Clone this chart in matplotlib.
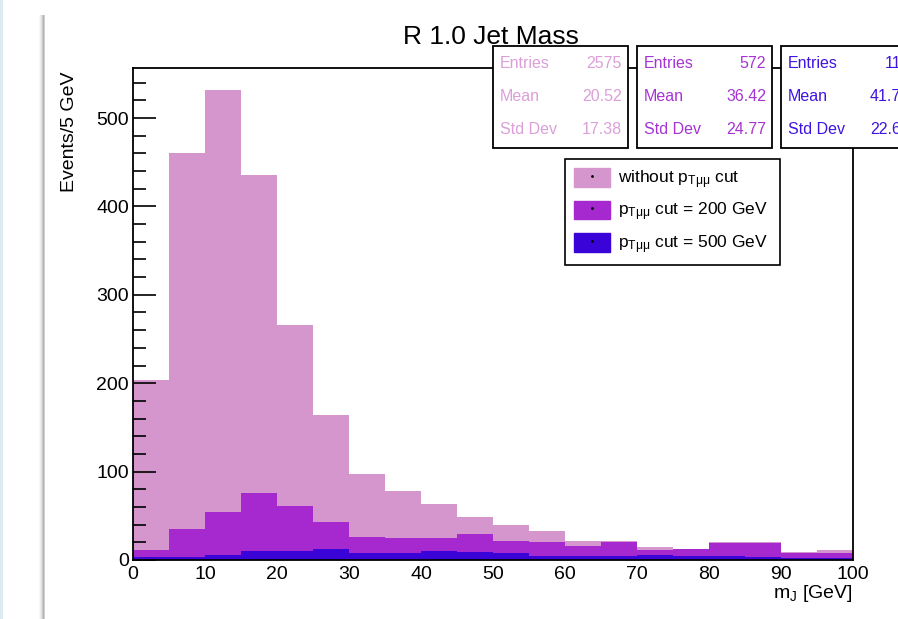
import numpy as np
import matplotlib
matplotlib.use("Agg")
from matplotlib import pyplot as plt
from matplotlib.patches import Rectangle, Patch
from matplotlib.lines import Line2D

plt.rcParams['font.family'] = ['Liberation Sans', 'DejaVu Sans']
plt.rcParams['mathtext.fontset'] = 'custom'
plt.rcParams['mathtext.rm'] = 'Liberation Sans'
plt.rcParams['mathtext.it'] = 'Liberation Sans'

# bin edges of m_J (GeV), 5 GeV bins
edges = np.arange(0, 105, 5)

# events per bin
no_cut = [204, 460, 532, 436, 266, 164, 97, 78, 63, 49, 40, 33, 21, 21, 15, 13, 20, 20, 9, 11]
cut_200 = [11, 35, 54, 76, 61, 43, 26, 25, 25, 29, 22, 20, 16, 20, 11, 12, 19, 19, 8, 8]
cut_500 = [3, 3, 6, 10, 10, 13, 8, 8, 10, 9, 8, 5, 4, 4, 6, 5, 5, 3, 2, 2]

labels = [r'without p$_{\mathrm{T}\mu\mu}$ cut',
          r'p$_{\mathrm{T}\mu\mu}$ cut = 200 GeV',
          r'p$_{\mathrm{T}\mu\mu}$ cut = 500 GeV']
colors = ['#d596cd', '#a628cf', '#3a04d8']
text_colors = ['#dc9fd8', '#a634d4', '#3f14e0']

# stats boxes (Entries, Mean, Std Dev)
stat_names = ['Entries', 'Mean', 'Std Dev']
stat_vals = [['2575', '20.52', '17.38'],
             ['572', '36.42', '24.77'],
             ['117', '41.75', '22.63']]

W, H = 898, 619
fig = plt.figure(figsize=(W / 100, H / 100), dpi=100)

def fx(px):
    return px / W

def fy(py):
    return 1 - py / H

# page background: blue strip and canvas shadow
fig.add_artist(Rectangle((0, 0), fx(3), 1, transform=fig.transFigure,
                         facecolor='#dcebf3', edgecolor='none', zorder=-5))
for i, a in enumerate([0.03, 0.07, 0.12, 0.2, 0.3, 0.18]):
    fig.add_artist(Rectangle((fx(39 + i), 0), fx(1), fy(15), transform=fig.transFigure,
                             facecolor='black', alpha=a, edgecolor='none', zorder=-4))

ax = fig.add_axes([fx(133), fy(560), fx(853) - fx(133), fy(68) - fy(560)])

for vals, c in zip([no_cut, cut_200, cut_500], colors):
    ax.stairs(vals, edges, fill=True, color=c, linewidth=0)

ax.set_xlim(0, 100)
ax.set_ylim(0, 556.6)
ax.set_yticks(np.arange(0, 501, 100))
ax.set_yticks(np.arange(0, 557, 20), minor=True)
ax.set_xticks(np.arange(0, 101, 10))
ax.tick_params(axis='y', which='major', direction='in', length=16.5, width=1.2,
               labelsize=14, pad=3)
ax.tick_params(axis='y', which='minor', direction='in', length=9.5, width=1.2)
ax.tick_params(axis='x', which='both', length=0, labelsize=14, pad=4)
for s in ax.spines.values():
    s.set_linewidth(1.3)
    s.set_zorder(5)
ax.set_axisbelow(False)

fig.text(fx(491), fy(37), 'R 1.0 Jet Mass', fontsize=19, ha='center', va='center')
fig.text(fx(70), fy(71), 'Events/5 GeV', fontsize=14, rotation=90, ha='center', va='top')
fig.text(fx(853), fy(593), r'm$_{\mathrm{J}}$ [GeV]', fontsize=14, ha='right', va='center')

# stats boxes
box_left = [493, 637, 781]
box_w = 135
for bl, vals, tc in zip(box_left, stat_vals, text_colors):
    fig.add_artist(Rectangle((fx(bl), fy(148)), fx(box_w), fy(46) - fy(148),
                             transform=fig.transFigure, facecolor='white',
                             edgecolor='black', linewidth=1.3, zorder=10))
    for k, (name, v) in enumerate(zip(stat_names, vals)):
        yy = fy(64 + 32.5 * k)
        fig.text(fx(bl + 7), yy, name, color=tc, fontsize=11.5, ha='left', va='center', zorder=11)
        fig.text(fx(bl + box_w - 6), yy, v, color=tc, fontsize=11.5, ha='right', va='center', zorder=11)

# legend
handles = [(Patch(facecolor=c, edgecolor=c),
            Line2D([], [], marker='.', color='black', markersize=2, linestyle='none'))
           for c in colors]
leg = ax.legend(handles, labels, loc='upper left',
                bbox_to_anchor=(fx(565), fy(160), fx(780) - fx(565), 0.001),
                bbox_transform=fig.transFigure, mode='expand',
                fontsize=12.5, frameon=True, fancybox=False, framealpha=1,
                edgecolor='black', handlelength=2.1, handleheight=1.27,
                labelspacing=0.56, borderpad=0.5, handletextpad=0.45,
                borderaxespad=0)
leg.get_frame().set_linewidth(1.2)
leg.set_zorder(12)

fig.savefig('out.png', dpi=100)
